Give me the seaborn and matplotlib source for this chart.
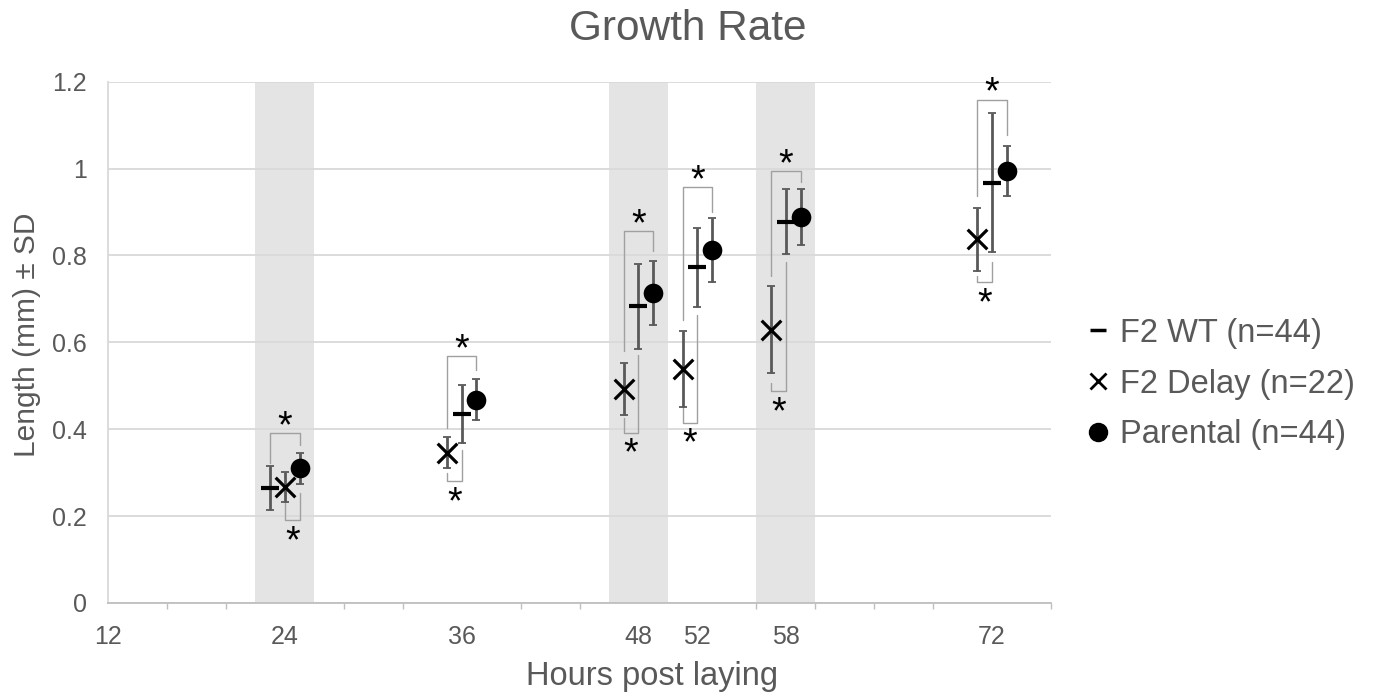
import numpy as np
import pandas as pd
import matplotlib
matplotlib.use("Agg")
import matplotlib.pyplot as plt
import seaborn as sns
from matplotlib.lines import Line2D

# ---------------- data ----------------
hours = [24, 36, 48, 52, 58, 72]
wt_mean = [0.265, 0.435, 0.683, 0.773, 0.878, 0.967]
wt_sd = [0.050, 0.066, 0.098, 0.091, 0.075, 0.160]
delay_mean = [0.267, 0.346, 0.493, 0.538, 0.629, 0.837]
delay_sd = [0.035, 0.035, 0.060, 0.087, 0.100, 0.073]
par_mean = [0.310, 0.468, 0.713, 0.812, 0.889, 0.994]
par_sd = [0.036, 0.047, 0.074, 0.074, 0.064, 0.057]

series_keys = ["WT", "Delay", "Parental"]
series_labels = ["F2 WT (n=44)", "F2 Delay (n=22)", "Parental (n=44)"]

tick_hours = [12, 24, 36, 48, 52, 58, 72]
band_hours = [24, 48, 58]
y_ticks = [0, 0.2, 0.4, 0.6, 0.8, 1.0, 1.2]
y_tick_labels = ["0", "0.2", "0.4", "0.6", "0.8", "1", "1.2"]

# significance brackets (top: left group vs Parental; bottom: Delay vs right group)
top_left = ["WT", "Delay", "Delay", "Delay", "Delay", "Delay"]
top_level = [0.392, 0.568, 0.856, 0.958, 0.994, 1.159]
top_left_end = [0.323, 0.403, 0.579, 0.652, 0.752, 0.936]
top_right_end = [0.364, 0.537, 0.810, 0.900, 0.968, 1.078]
bot_right = ["Parental", "WT", "WT", "WT", "WT", "WT"]
bot_level = [0.190, 0.280, 0.392, 0.415, 0.487, 0.738]
bot_left_end = [0.230, 0.300, 0.426, 0.452, 0.507, 0.752]
bot_right_end = [0.253, 0.352, 0.571, 0.664, 0.786, 0.786]

# order of the three groups around each time point
order_first = ["WT", "Delay", "Parental"]
order_rest = ["Delay", "WT", "Parental"]

# ---------------- build table ----------------
means = {"WT": wt_mean, "Delay": delay_mean, "Parental": par_mean}
sds = {"WT": wt_sd, "Delay": delay_sd, "Parental": par_sd}
rows = []
for i, h in enumerate(hours):
    order = order_first if i == 0 else order_rest
    for k in series_keys:
        rows.append({"hour": h, "group": k,
                     "x": h + (order.index(k) - 1) * 1.0,
                     "mean": means[k][i], "sd": sds[k][i]})
df = pd.DataFrame(rows)

def xpos(i, k):
    return df[(df.hour == hours[i]) & (df.group == k)].x.iloc[0]

# ---------------- figure ----------------
sns.set_theme(style="white")
plt.rcParams['font.family'] = ['Liberation Sans', 'DejaVu Sans']
TXT = "#595959"

fig = plt.figure(figsize=(13.76, 6.94), dpi=100)
ax = fig.add_axes([108 / 1376, 1 - 603 / 694, (1051 - 108) / 1376, (603 - 81.7) / 694])

for h in band_hours:
    ax.axvspan(h - 2, h + 2, color="#e4e4e4", lw=0, zorder=0)

ax.set_axisbelow(True)
ax.yaxis.grid(True, color="#d9d9d9", lw=1.3)
ax.xaxis.grid(False)

styles = {
    "WT": dict(marker="_", s=170, linewidth=3.0),
    "Delay": dict(marker="x", s=200, linewidth=2.3),
    "Parental": dict(marker="o", s=200, linewidth=0),
}
for k in series_keys:
    sub = df[df.group == k]
    ax.errorbar(sub.x, sub["mean"], yerr=sub.sd, fmt="none", ecolor="#595959",
                elinewidth=2.0, capsize=3.0, capthick=1.3, zorder=2)
    sns.scatterplot(data=sub, x="x", y="mean", color="black", ax=ax,
                    zorder=3, legend=False, **styles[k])

# brackets
BR = "#a0a0a0"
for i in range(len(hours)):
    xl = xpos(i, top_left[i]); xr = xpos(i, "Parental")
    ax.plot([xl, xl, xr, xr], [top_left_end[i], top_level[i], top_level[i], top_right_end[i]],
            color=BR, lw=1.0, zorder=1.5)
    ax.annotate("*", xy=((xl + xr) / 2, top_level[i]), xytext=(0, -3),
                textcoords="offset points", ha="center", va="baseline",
                fontsize=27, color="black")
    xl = xpos(i, "Delay"); xr = xpos(i, bot_right[i])
    ax.plot([xl, xl, xr, xr], [bot_left_end[i], bot_level[i], bot_level[i], bot_right_end[i]],
            color=BR, lw=1.0, zorder=1.5)
    ax.annotate("*", xy=((xl + xr) / 2, bot_level[i]), xytext=(0, -23),
                textcoords="offset points", ha="center", va="baseline",
                fontsize=27, color="black")

# axes
ax.set_xlim(12, 76)
ax.set_ylim(0, 1.2)
ax.set_xticks(tick_hours)
ax.set_xticklabels([str(t) for t in tick_hours])
ax.set_xticks(np.arange(12, 77, 4), minor=True)
ax.set_yticks(y_ticks)
ax.set_yticklabels(y_tick_labels)
ax.tick_params(axis="x", which="major", length=0, pad=15.5, labelsize=18, labelcolor=TXT)
ax.tick_params(axis="x", which="minor", length=4, width=1, color="#bfbfbf", direction="out")
ax.tick_params(axis="y", length=0, pad=15, labelsize=18, labelcolor=TXT)
ax.tick_params(bottom=True, which="both")

for s in ["top", "right"]:
    ax.spines[s].set_visible(False)
ax.spines["left"].set_color("#d9d9d9")
ax.spines["left"].set_linewidth(1.3)
ax.spines["bottom"].set_color("#bfbfbf")
ax.spines["bottom"].set_linewidth(1.3)

ax.set_xlabel("Hours post laying", fontsize=23.5, color=TXT)
ax.xaxis.set_label_coords((652 - 108) / (1051 - 108), -(677 - 603) / (603 - 81.7))
ax.xaxis.label.set_va("center")
ax.set_ylabel("Length (mm) ± SD", fontsize=21.5, color=TXT)
ax.yaxis.set_label_coords(-(108 - 27) / (1051 - 108), (603 - 335) / (603 - 81.7))
ax.yaxis.label.set_va("center")

fig.suptitle("Growth Rate", x=687.5 / 1376, y=1 - 29 / 694, va="center",
             fontsize=30.5, color=TXT)

handles = [
    Line2D([], [], ls="none", marker="_", color="black", markersize=12, mew=2.5),
    Line2D([], [], ls="none", marker="x", color="black", markersize=12, mew=2.0),
    Line2D([], [], ls="none", marker="o", color="black", markersize=13),
]
leg = fig.legend(handles, series_labels, loc="center left",
                 bbox_to_anchor=(1087 / 1376, 1 - 384 / 694), frameon=False,
                 fontsize=23.5, handlelength=0.7, handletextpad=0.3, labelspacing=0.6,
                 borderpad=0, borderaxespad=0)
for t in leg.get_texts():
    t.set_color(TXT)

fig.savefig("out.png", dpi=100)
